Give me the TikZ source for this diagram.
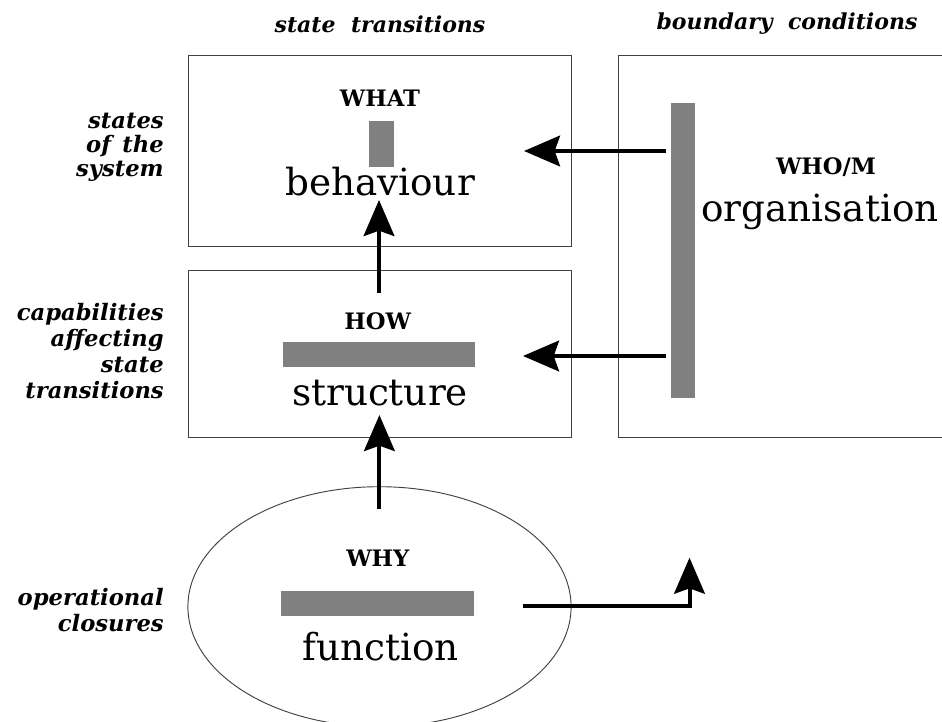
\documentclass[tikz,border=0pt]{standalone}
\usepackage{fontspec}
\setmainfont{DejaVu Serif}
\usetikzlibrary{arrows.meta,shapes.geometric}
\begin{document}
\begin{tikzpicture}[x=0.75pt,y=-0.75pt,
  box/.style={draw=black!75,line width=0.7pt,rectangle,inner sep=0pt},
  bar/.style={fill=black!50,draw=none,rectangle,inner sep=0pt},
  conn/.style={line width=3pt,-{Stealth[length=27pt,width=23pt,inset=4pt]}},
  side/.style={font=\fontsize{17}{18}\selectfont\bfseries\itshape,align=right,anchor=east,inner sep=0pt},
  head/.style={font=\fontsize{16.5}{18}\selectfont\bfseries\itshape,inner sep=0pt},
  capl/.style={font=\fontsize{17}{18}\selectfont\bfseries,inner sep=0pt},
  big/.style={font=\fontsize{28}{32}\selectfont,inner sep=0pt,anchor=base}]
\useasboundingbox (0,0) rectangle (942,721);

% boxes
\node[box,minimum width=287.25pt,minimum height=143.6pt] (top) at (379.5,150.75) {};
\node[box,minimum width=287.25pt,minimum height=125.1pt] (mid) at (379.5,354.1) {};
\node[box,minimum width=245.8pt,minimum height=286.9pt] (right) at (782.15,246.25) {};
\node[draw=black!75,line width=0.7pt,ellipse,minimum width=287.4pt,minimum height=180pt,inner sep=0pt] (ell) at (379.5,606.7) {};

% gray bars
\node[bar,minimum width=19.1pt,minimum height=34.5pt] (whatbar) at (381.25,143.7) {};
\node[bar,minimum width=144pt,minimum height=18.3pt] (howbar) at (379,354.5) {};
\node[bar,minimum width=144.5pt,minimum height=18.5pt] (whybar) at (377.3,603.35) {};
\node[bar,minimum width=18.2pt,minimum height=221.7pt] (whobar) at (682.85,250.5) {};

% headings
\node[head] (st) at (380,24) {state\hspace{0.7em}transitions};
\node[head] (bc) at (787,24) {boundary\hspace{0.7em}conditions};

% side labels
\node[side] (l1) at (164,147) {states\\of\hspace{0.5em}the\\system};
\node[side,font=\fontsize{17}{19.5}\selectfont\bfseries\itshape] (l2) at (164,351) {capabilities\\affecting\\state\\transitions};
\node[side,font=\fontsize{17}{20}\selectfont\bfseries\itshape] (l3) at (164,610) {operational\\closures};

% caps labels
\node[capl] (what) at (380,98.5) {WHAT};
\node[capl] (how) at (377.8,321) {HOW};
\node[capl] (why) at (377.8,558.3) {WHY};
\node[capl] (who) at (826,167.5) {WHO/M};

% big words
\node[big] (beh) at (380,195) {behaviour};
\node[big] (org) at (820,221.7) {organisation};
\node[big] (str) at (380,405) {structure};
\node[big] (fun) at (380.4,660) {function};

% connector end points
\coordinate (o1) at (666,151);
\coordinate (b1) at (524,151);
\coordinate (o2) at (666,356);
\coordinate (s2) at (523,356);
\coordinate (m1) at (379,293);
\coordinate (t1) at (379,200);
\coordinate (e1) at (379.4,509);
\coordinate (m2) at (379.4,415);
\coordinate (f1) at (523,605.7);
\coordinate (f2) at (689.5,557.7);

\draw[conn] (o1) -- (b1);
\draw[conn] (o2) -- (s2);
\draw[conn] (m1) -- (t1);
\draw[conn] (e1) -- (m2);
\draw[conn] (f1) -| (f2);
\end{tikzpicture}
\end{document}
